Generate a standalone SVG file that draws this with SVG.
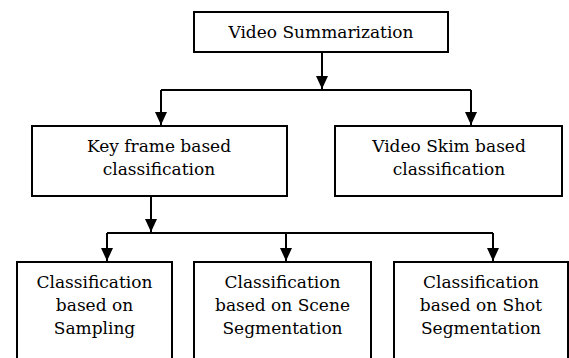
<svg xmlns="http://www.w3.org/2000/svg" width="569" height="358" viewBox="0 0 569 358">
<defs>
<marker id="ah" markerUnits="userSpaceOnUse" markerWidth="13" markerHeight="12" viewBox="0 0 13 12" refX="13" refY="6" orient="auto">
<path d="M0,0 L13,6 L0,12 Z" fill="#000"/>
</marker>
</defs>
<style>
.box{fill:#fff;stroke:#000;stroke-width:2}
.t{font-family:'DejaVu Serif',serif;font-size:17px;fill:#000;text-anchor:middle}
.c{fill:none;stroke:#000;stroke-width:2}
</style>
<rect width="569" height="358" fill="#fff"/>
<g id="connectors">
<path class="c" d="M322,52 L322,89" marker-end="url(#ah)"/>
<path class="c" d="M161,90 L471,90"/>
<path class="c" d="M161,90 L161,125" marker-end="url(#ah)"/>
<path class="c" d="M471,90 L471,125" marker-end="url(#ah)"/>
<path class="c" d="M151,196 L151,232" marker-end="url(#ah)"/>
<path class="c" d="M107,233 L493,233"/>
<path class="c" d="M107,233 L107,261" marker-end="url(#ah)"/>
<path class="c" d="M286,233 L286,261" marker-end="url(#ah)"/>
<path class="c" d="M493,233 L493,261" marker-end="url(#ah)"/>
</g>
<g id="video-summarization">
<rect class="box" x="194" y="12" width="254" height="40"/>
<text class="t" x="321" y="38">Video Summarization</text>
</g>
<g id="key-frame">
<rect class="box" x="32" y="126" width="255" height="70"/>
<text class="t" x="159" y="152">Key frame based</text>
<text class="t" x="159" y="175">classification</text>
</g>
<g id="video-skim">
<rect class="box" x="335" y="126" width="227" height="70"/>
<text class="t" x="449" y="152">Video Skim based</text>
<text class="t" x="449" y="175">classification</text>
</g>
<g id="sampling">
<rect class="box" x="17" y="262" width="155" height="110"/>
<text class="t" x="94.5" y="288">Classification</text>
<text class="t" x="94.5" y="311">based on</text>
<text class="t" x="94.5" y="334">Sampling</text>
</g>
<g id="scene">
<rect class="box" x="194" y="262" width="177" height="110"/>
<text class="t" x="282.5" y="288">Classification</text>
<text class="t" x="282.5" y="311">based on Scene</text>
<text class="t" x="282.5" y="334">Segmentation</text>
</g>
<g id="shot">
<rect class="box" x="394" y="262" width="174" height="110"/>
<text class="t" x="481" y="288">Classification</text>
<text class="t" x="481" y="311">based on Shot</text>
<text class="t" x="481" y="334">Segmentation</text>
</g>
</svg>
